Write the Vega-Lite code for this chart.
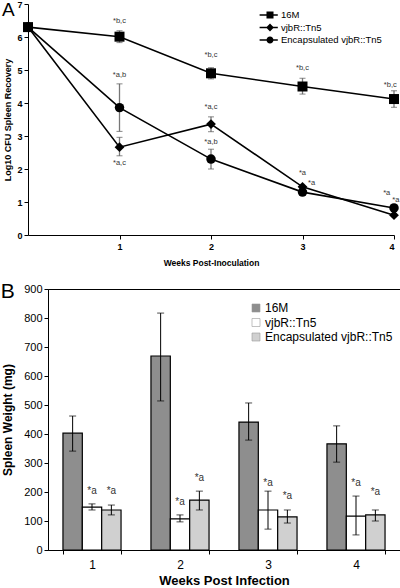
{
  "$schema": "https://vega.github.io/schema/vega-lite/v6.json",
  "padding": {"left": 0, "top": 0, "right": 0, "bottom": 0},
  "spacing": 13,
  "resolve": {"scale": {"color": "independent", "shape": "independent", "size": "independent"}, "legend": {"color": "independent", "shape": "independent"}},
  "config": {
    "font": "Liberation Sans",
    "view": {"stroke": "black", "strokeWidth": 1},
    "axis": {"domainColor": "black", "tickColor": "black", "labelColor": "black", "titleColor": "black", "grid": false, "tickSize": 4}
  },
  "datasets": {
    "cfu": [
      {"series": "16M", "week": 0, "value": 6.3},
      {"series": "16M", "week": 1, "value": 6.01, "lo": 5.83, "hi": 6.19},
      {"series": "16M", "week": 2, "value": 4.9, "lo": 4.73, "hi": 5.07},
      {"series": "16M", "week": 3, "value": 4.5, "lo": 4.27, "hi": 4.75},
      {"series": "16M", "week": 4, "value": 4.12, "lo": 3.87, "hi": 4.37},
      {"series": "vjbR::Tn5", "week": 0, "value": 6.3},
      {"series": "vjbR::Tn5", "week": 1, "value": 2.66, "lo": 2.4, "hi": 2.96},
      {"series": "vjbR::Tn5", "week": 2, "value": 3.36, "lo": 3.13, "hi": 3.58},
      {"series": "vjbR::Tn5", "week": 3, "value": 1.46},
      {"series": "vjbR::Tn5", "week": 4, "value": 0.6},
      {"series": "Encapsulated vjbR::Tn5", "week": 0, "value": 6.3},
      {"series": "Encapsulated vjbR::Tn5", "week": 1, "value": 3.86, "lo": 3.14, "hi": 4.58},
      {"series": "Encapsulated vjbR::Tn5", "week": 2, "value": 2.3, "lo": 2.0, "hi": 2.6},
      {"series": "Encapsulated vjbR::Tn5", "week": 3, "value": 1.3},
      {"series": "Encapsulated vjbR::Tn5", "week": 4, "value": 0.82}
    ],
    "cfuNotes": [
      {"t": "*b,c", "week": 1, "y": 6.48},
      {"t": "*b,c", "week": 2, "y": 5.45},
      {"t": "*b,c", "week": 3, "y": 5.06},
      {"t": "*b,c", "week": 3.96, "y": 4.55},
      {"t": "*a,b", "week": 1, "y": 4.85},
      {"t": "*a,c", "week": 1, "y": 2.18},
      {"t": "*a,c", "week": 2, "y": 3.88},
      {"t": "*a,b", "week": 2, "y": 2.82},
      {"t": "*a", "week": 3.0, "y": 1.88},
      {"t": "*a", "week": 3.1, "y": 1.58},
      {"t": "*a", "week": 3.92, "y": 1.27},
      {"t": "*a", "week": 4.02, "y": 1.06}
    ],
    "spleen": [
      {"week": "1", "series": "16M", "value": 403, "lo": 341, "hi": 462},
      {"week": "1", "series": "vjbR::Tn5", "value": 148, "lo": 138, "hi": 159, "note": "*a", "ny": 205},
      {"week": "1", "series": "Encapsulated vjbR::Tn5", "value": 138, "lo": 121, "hi": 155, "note": "*a", "ny": 203},
      {"week": "2", "series": "16M", "value": 669, "lo": 514, "hi": 817},
      {"week": "2", "series": "vjbR::Tn5", "value": 107, "lo": 97, "hi": 121, "note": "*a", "ny": 165},
      {"week": "2", "series": "Encapsulated vjbR::Tn5", "value": 172, "lo": 138, "hi": 203, "note": "*a", "ny": 248},
      {"week": "3", "series": "16M", "value": 441, "lo": 379, "hi": 507},
      {"week": "3", "series": "vjbR::Tn5", "value": 138, "lo": 72, "hi": 203, "note": "*a", "ny": 230},
      {"week": "3", "series": "Encapsulated vjbR::Tn5", "value": 114, "lo": 93, "hi": 138, "note": "*a", "ny": 187},
      {"week": "4", "series": "16M", "value": 366, "lo": 303, "hi": 428},
      {"week": "4", "series": "vjbR::Tn5", "value": 117, "lo": 52, "hi": 186, "note": "*a", "ny": 230},
      {"week": "4", "series": "Encapsulated vjbR::Tn5", "value": 121, "lo": 100, "hi": 138, "note": "*a", "ny": 200}
    ]
  },
  "vconcat": [
    {
      "width": 346,
      "height": 231,
      "view": {"stroke": null},
      "title": {"text": "A", "anchor": "start", "frame": "bounds", "fontSize": 19, "fontWeight": "normal", "offset": 0, "dy": 20, "dx": -2},
      "encoding": {
        "x": {"type": "quantitative", "scale": {"domain": [0, 4], "range": [-20, 346], "nice": false},
          "axis": {"values": [1, 2, 3, 4], "labelFontSize": 9, "labelFontWeight": "bold", "labelPadding": 3, "title": "Weeks Post-Inoculation", "titleFontSize": 8.5, "titleFontWeight": "bold", "titlePadding": 7}},
        "y": {"type": "quantitative", "scale": {"domain": [0, 7], "nice": false},
          "axis": {"values": [0, 1, 2, 3, 4, 5, 6, 7], "offset": 20, "minExtent": 0, "labelFontSize": 9, "labelFontWeight": "bold", "labelPadding": 2, "title": "Log10 CFU Spleen Recovery", "titleFontSize": 9, "titleFontWeight": "bold", "titlePadding": 4}}
      },
      "layer": [
        {"mark": {"type": "rule", "color": "black", "strokeWidth": 1}, "encoding": {"x": {"datum": 0}, "x2": {"datum": 4}, "y": {"datum": 7}}},
        {"mark": {"type": "rule", "color": "black", "strokeWidth": 1}, "encoding": {"x": {"datum": 4}, "y": {"datum": 0}, "y2": {"datum": 7}}},
        {"mark": {"type": "rule", "color": "#777", "strokeWidth": 1}, "encoding": {"x": {"datum": 0}, "x2": {"datum": 4}, "y": {"datum": 0.67}}},
        {"data": {"name": "cfu"}, "transform": [{"filter": "isValid(datum.lo)"}],
          "mark": {"type": "rule", "color": "#777", "strokeWidth": 1.3},
          "encoding": {"x": {"field": "week"}, "y": {"field": "lo"}, "y2": {"field": "hi"}}},
        {"data": {"name": "cfu"}, "transform": [{"filter": "isValid(datum.lo)"}],
          "mark": {"type": "tick", "orient": "horizontal", "color": "#555", "size": 6, "thickness": 1},
          "encoding": {"x": {"field": "week"}, "y": {"field": "lo"}}},
        {"data": {"name": "cfu"}, "transform": [{"filter": "isValid(datum.hi)"}],
          "mark": {"type": "tick", "orient": "horizontal", "color": "#555", "size": 6, "thickness": 1},
          "encoding": {"x": {"field": "week"}, "y": {"field": "hi"}}},
        {"data": {"name": "cfu"},
          "mark": {"type": "line", "color": "black", "strokeWidth": 1.6},
          "encoding": {"x": {"field": "week"}, "y": {"field": "value"}, "detail": {"field": "series"}}},
        {"data": {"name": "cfu"},
          "mark": {"type": "point", "filled": true, "color": "black", "opacity": 1},
          "encoding": {"x": {"field": "week"}, "y": {"field": "value"},
            "shape": {"field": "series", "type": "nominal", "scale": {"domain": ["16M", "vjbR::Tn5", "Encapsulated vjbR::Tn5"], "range": ["square", "diamond", "circle"]}, "legend": null},
            "size": {"field": "series", "type": "nominal", "scale": {"domain": ["16M", "vjbR::Tn5", "Encapsulated vjbR::Tn5"], "range": [100, 90, 85]}, "legend": null}}},
        {"data": {"name": "cfu"}, "transform": [{"filter": "false"}],
          "mark": {"type": "point", "filled": true, "fill": "black", "stroke": "black", "strokeWidth": 0.4},
          "encoding": {"x": {"field": "week"}, "y": {"field": "value"},
            "shape": {"field": "series", "type": "nominal",
              "scale": {"domain": ["16M", "vjbR::Tn5", "Encapsulated vjbR::Tn5"],
                "range": ["M-1.6,-0.11H1.2V0.11H-1.6ZM-0.54,-0.54H0.54V0.54H-0.54Z", "M-1.6,-0.11H1.2V0.11H-1.6ZM0,-0.6L0.6,0L0,0.6L-0.6,0Z", "M-1.6,-0.11H1.2V0.11H-1.6ZM-0.54,0A0.54,0.54 0 1,1 0.54,0A0.54,0.54 0 1,1 -0.54,0Z"]},
              "legend": {"title": null, "orient": "none", "legendX": 215, "legendY": 4, "padding": 0, "symbolSize": 169, "symbolOpacity": 1, "symbolFillColor": "black", "symbolStrokeColor": "black", "symbolStrokeWidth": 0.4, "labelFontSize": 9.5, "labelOffset": 4, "rowPadding": 0.5, "labelColor": "black"}}}},
        {"data": {"name": "cfuNotes"},
          "mark": {"type": "text", "fontSize": 7.5, "color": "#333", "baseline": "middle"},
          "encoding": {"x": {"field": "week"}, "y": {"field": "y"}, "text": {"field": "t"}}}
      ],
      "resolve": {"scale": {"shape": "independent"}}
    },
    {
      "width": 352,
      "height": 261,
      "title": {"text": "B", "anchor": "start", "frame": "bounds", "fontSize": 21, "fontWeight": "normal", "offset": 0, "dy": 19, "dx": -1},
      "data": {"name": "spleen"},
      "encoding": {
        "x": {"field": "week", "type": "ordinal", "scale": {"paddingInner": 0.34, "paddingOuter": 0.17},
          "axis": {"labelAngle": 0, "labelFontSize": 12, "labelPadding": 5, "tickBand": "extent", "title": "Weeks Post Infection", "titleFontSize": 13, "titleFontWeight": "bold", "titlePadding": 4}},
        "xOffset": {"field": "series", "type": "nominal", "scale": {"domain": ["16M", "vjbR::Tn5", "Encapsulated vjbR::Tn5"], "paddingInner": 0, "paddingOuter": 0}},
        "y": {"type": "quantitative", "scale": {"domain": [0, 900], "nice": false},
          "axis": {"values": [0, 100, 200, 300, 400, 500, 600, 700, 800, 900], "minExtent": 0, "labelOverlap": false, "labelFontSize": 11, "labelPadding": 2, "title": "Spleen Weight (mg)", "titleFontSize": 12, "titleFontWeight": "bold", "titlePadding": 9}}
      },
      "layer": [
        {"mark": {"type": "bar", "stroke": "black", "strokeWidth": 1.2},
          "encoding": {
            "y": {"field": "value"},
            "color": {"field": "series", "type": "nominal", "scale": {"domain": ["16M", "vjbR::Tn5", "Encapsulated vjbR::Tn5"], "range": ["#8e8e8e", "#ffffff", "#d0d0d0"]},
              "legend": {"title": null, "orient": "none", "legendX": 202, "legendY": 13, "padding": 0, "symbolType": "square", "symbolSize": 64, "symbolStrokeColor": "#999", "symbolStrokeWidth": 0.6, "labelFontSize": 12, "labelOffset": 3, "rowPadding": 2.5, "labelColor": "black"}}}},
        {"mark": {"type": "rule", "color": "black", "strokeWidth": 1},
          "encoding": {"y": {"field": "lo"}, "y2": {"field": "hi"}}},
        {"mark": {"type": "tick", "orient": "horizontal", "color": "black", "size": 7, "thickness": 1},
          "encoding": {"y": {"field": "lo"}}},
        {"mark": {"type": "tick", "orient": "horizontal", "color": "black", "size": 7, "thickness": 1},
          "encoding": {"y": {"field": "hi"}}},
        {"transform": [{"filter": "isValid(datum.note)"}],
          "mark": {"type": "text", "fontSize": 10, "color": "#333", "baseline": "middle"},
          "encoding": {"y": {"field": "ny"}, "text": {"field": "note"}}}
      ]
    }
  ]
}
